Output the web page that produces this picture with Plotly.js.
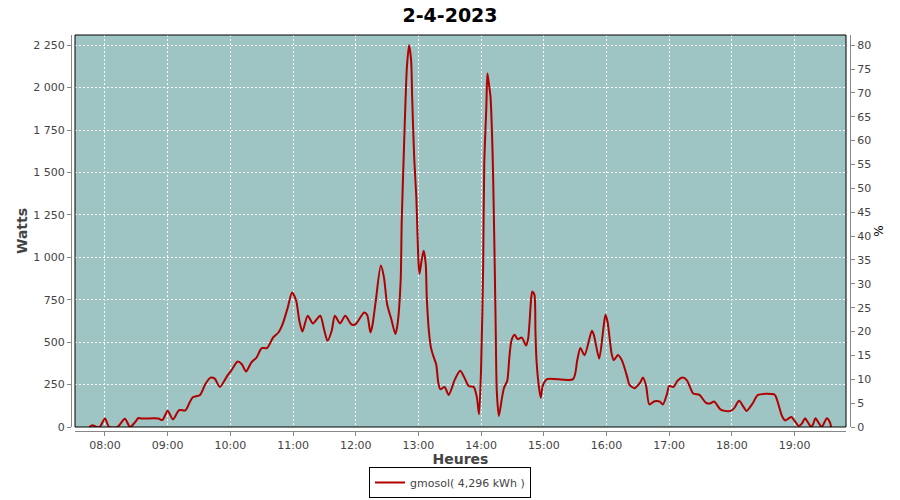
<!DOCTYPE html>
<html>
<head>
<meta charset="utf-8">
<script src="https://cdn.plot.ly/plotly-3.0.1.min.js"></script>
<style>html,body{margin:0;padding:0;background:#fff;}#chart{width:900px;height:500px;}</style>
</head>
<body>
<div id="chart"></div>
<script>
const chartDate = '2023-04-02';
const chartTitle = '2-4-2023';
const seriesName = 'gmosol( 4,296 kWh )';

const times = [
'07:45','07:48','07:52','07:55','08:00','08:04','08:12','08:19','08:24','08:29',
'08:32','08:35','08:51','08:55','09:00','09:05','09:11','09:17','09:21','09:24',
'09:31','09:36','09:41','09:45','09:50','09:57','10:01','10:07','10:11','10:15',
'10:20','10:25','10:30','10:35','10:41','10:46','10:50','10:55','10:59','11:03',
'11:06','11:09','11:14','11:19','11:26','11:30','11:33','11:37','11:40','11:45',
'11:50','11:56','12:00','12:08','12:11','12:14','12:16','12:19','12:24','12:27',
'12:30','12:34','12:38','12:40','12:43','12:44','12:46','12:48','12:49','12:51',
'12:53','12:54','12:56','12:58','12:59','13:00','13:01','13:03','13:05','13:07',
'13:08','13:10','13:12','13:14','13:17','13:19','13:21','13:25','13:29','13:35',
'13:40','13:44','13:48','13:53','13:56','13:58','14:00','14:02','14:03','14:05',
'14:06','14:07','14:09','14:11','14:12','14:13','14:14','14:15','14:17','14:20',
'14:22','14:25','14:27','14:29','14:32','14:35','14:39','14:43','14:45','14:48',
'14:49','14:51','14:52','14:53','14:55','14:57','14:59','15:03','15:28','15:32',
'15:35','15:39','15:46','15:48','15:53','15:57','15:59','16:01','16:05','16:07',
'16:11','16:15','16:20','16:22','16:27','16:32','16:35','16:38','16:41','16:46',
'16:51','16:54','16:58','17:00','17:04','17:08','17:13','17:17','17:23','17:29',
'17:35','17:39','17:43','17:49','17:53','17:59','18:02','18:07','18:11','18:14',
'18:20','18:25','18:41','18:43','18:45','18:48','18:51','18:54','18:57','18:59',
'19:02','19:04','19:07','19:10','19:13','19:16','19:18','19:20','19:23','19:26',
'19:28','19:31','19:34','19:35'
];

const watts = [
0,10,0,0,50,0,0,49,0,30,
53,50,50,41,96,45,100,98,144,175,
189,252,291,285,236,301,334,386,370,327,
380,409,465,465,528,557,606,705,793,744,
626,563,656,610,656,567,508,567,656,610,
656,604,606,675,660,557,600,734,951,882,
725,636,547,606,862,1207,1611,1984,2122,2250,
2162,1945,1581,1354,1158,981,902,980,1039,961,
764,567,468,423,370,262,222,236,189,282,
331,291,242,236,173,75,350,961,1551,1886,
2083,2043,1945,1611,1315,961,567,213,65,173,
232,272,409,508,543,518,527,481,520,764,
799,780,567,393,252,173,242,282,282,393,
465,423,567,540,403,579,661,620,429,393,
425,390,291,248,229,260,291,240,133,152,
150,133,197,242,236,272,291,275,197,189,
144,138,150,104,95,95,110,154,120,95,
140,189,190,164,124,65,39,49,59,45,
20,6,20,51,25,0,20,51,25,0,
20,51,25,0
];

const xTickFormat = '%H:%M';
const yLeftMax = 2310;
const yRightMax = 82.13;

const xs = times.map(t => chartDate + ' ' + t);

const font = 'DejaVu Sans, Verdana, sans-serif';
const gray = '#888888';
const txt = '#444444';

const traces = [
  {
    x: xs, y: watts, type: 'scatter', mode: 'lines', name: seriesName,
    line: {color: '#B00000', width: 2, shape: 'spline', smoothing: 0.7},
    xaxis: 'x', yaxis: 'y', hoverinfo: 'skip'
  },
  {
    x: [], y: [], type: 'scatter', mode: 'lines', yaxis: 'y2', xaxis: 'x',
    showlegend: false, hoverinfo: 'skip'
  }
];

const W = 779, H = 396;
const layout = {
  width: 900, height: 500,
  margin: {l: 71, r: 50, t: 35, b: 69, pad: 0},
  paper_bgcolor: '#ffffff',
  plot_bgcolor: '#9EC4C3',
  separators: ', ',
  font: {family: font, size: 11, color: txt},
  title: {
    text: chartTitle, xref: 'container', x: 0.5, xanchor: 'center',
    yref: 'container', y: 1 - 15/500, yanchor: 'middle',
    font: {family: font, size: 19, weight: 'bold', color: '#000000'}
  },
  showlegend: true,
  legend: {
    orientation: 'h', xref: 'container', x: 0.5, xanchor: 'center',
    yref: 'container', y: 1 - 467/500, yanchor: 'top',
    bgcolor: '#ffffff', bordercolor: '#000000', borderwidth: 1,
    font: {family: font, size: 11, color: txt}, itemwidth: 30
  },
  xaxis: {
    type: 'date',
    domain: [4/W, 1 - 4/W],
    anchor: 'free', position: 0,
    range: [chartDate + ' 07:31:18', chartDate + ' 19:49:15'],
    tick0: chartDate + ' 08:00', dtick: 3600000,
    tickformat: xTickFormat,
    showline: true, linecolor: gray, linewidth: 1,
    ticks: 'outside', ticklen: 4, tickcolor: gray, tickwidth: 1,
    showgrid: true, gridcolor: '#ffffff', gridwidth: 1, griddash: '2px,2px',
    zeroline: false,
    tickfont: {family: font, size: 11, color: txt},
    title: {text: 'Heures', standoff: 3, font: {family: font, size: 14, weight: 'bold', color: txt}}
  },
  yaxis: {
    domain: [4/H, 1],
    anchor: 'free', position: 0,
    range: [0, yLeftMax], dtick: 250, tick0: 0,
    separatethousands: true, tickformat: ',d',
    showline: true, linecolor: gray, linewidth: 1,
    ticks: 'outside', ticklen: 4, tickcolor: gray, tickwidth: 1,
    showgrid: true, gridcolor: '#ffffff', gridwidth: 1, griddash: '2px,2px',
    zeroline: false,
    tickfont: {family: font, size: 11, color: txt},
    title: {text: 'Watts', standoff: 1, font: {family: font, size: 14, weight: 'bold', color: txt}}
  },
  yaxis2: {
    overlaying: 'y', side: 'right',
    anchor: 'free', position: 1,
    range: [0, yRightMax], dtick: 5, tick0: 0,
    showline: true, linecolor: gray, linewidth: 1,
    ticks: 'outside', ticklen: 4, tickcolor: gray, tickwidth: 1,
    showgrid: false, zeroline: false,
    tickfont: {family: font, size: 11, color: txt},
    title: {text: '%', standoff: 4, font: {family: font, size: 12, color: '#000000'}}
  },
  shapes: [
    {type: 'rect', xref: 'x domain', yref: 'y domain', x0: 0, x1: 1, y0: 0, y1: 1,
     line: {color: '#000000', width: 1}, fillcolor: 'rgba(0,0,0,0)', layer: 'above'}
  ]
};

Plotly.newPlot('chart', traces, layout, {staticPlot: true, displayModeBar: false});
</script>
</body>
</html>
